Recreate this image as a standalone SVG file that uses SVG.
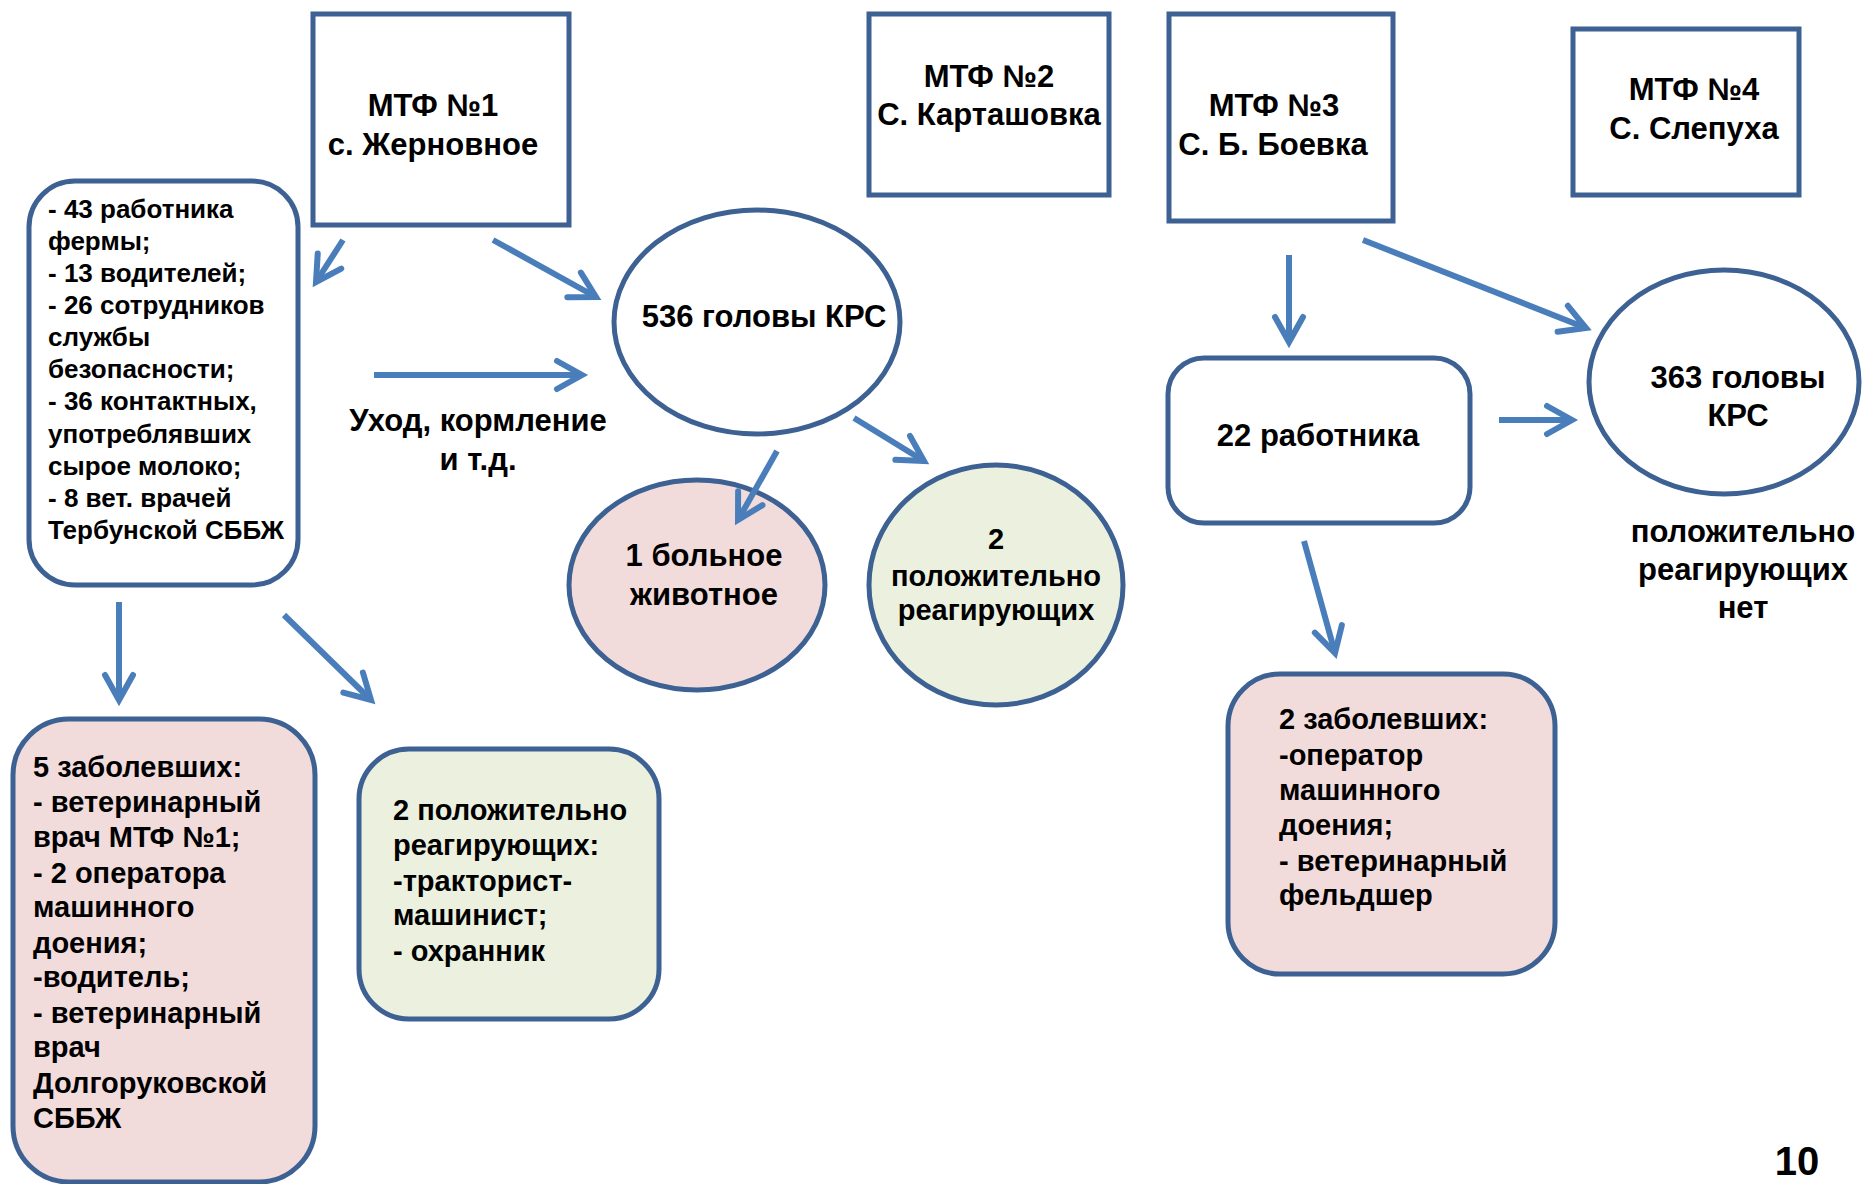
<svg xmlns="http://www.w3.org/2000/svg" width="1864" height="1184" viewBox="0 0 1864 1184">
<defs>
<style>
.box{fill:#ffffff;stroke:#3C6192;stroke-width:5}
.pink{fill:#F2DCDB;stroke:#3C6192;stroke-width:5}
.green{fill:#EBF1DE;stroke:#3C6192;stroke-width:5}
.t{font-family:"Liberation Sans",Arial,sans-serif;font-weight:bold;fill:#000}
.c{text-anchor:middle}
.f31{font-size:31px}
.f29{font-size:29px}
.f26{font-size:26px}
.conn line{stroke:#4A7EBB;stroke-width:6;marker-end:url(#ah)}
</style>
<marker id="ah" markerUnits="userSpaceOnUse" markerWidth="60" markerHeight="60" viewBox="-30 -30 60 60" refX="0" refY="0" orient="auto" overflow="visible">
<path d="M-25,-14 L0,0 L-25,14" fill="none" stroke="#4A7EBB" stroke-width="6" stroke-linecap="round"/>
</marker>
</defs>
<rect width="1864" height="1184" fill="#ffffff"/>

<g id="mtf1">
<rect class="box" x="313" y="14" width="256" height="211"/>
<text class="t c f31" x="433" y="116">МТФ №1</text>
<text class="t c f31" x="433" y="155">с. Жерновное</text>
</g>

<g id="mtf2">
<rect class="box" x="869" y="14" width="240" height="181"/>
<text class="t c f31" x="989" y="87">МТФ №2</text>
<text class="t c f31" x="989" y="125">С. Карташовка</text>
</g>

<g id="mtf3">
<rect class="box" x="1169" y="14" width="224" height="207"/>
<text class="t c f31" x="1274" y="116">МТФ №3</text>
<text class="t c f31" x="1273" y="155">С. Б. Боевка</text>
</g>

<g id="mtf4">
<rect class="box" x="1573" y="29" width="226" height="166"/>
<text class="t c f31" x="1694" y="100">МТФ №4</text>
<text class="t c f31" x="1694" y="139">С. Слепуха</text>
</g>

<g id="workers1">
<rect class="box" x="29" y="181" width="269" height="404" rx="46" ry="46"/>
<text class="t f26" x="48">
<tspan x="48" y="218">- 43 работника</tspan>
<tspan x="48" y="250">фермы;</tspan>
<tspan x="48" y="282">- 13 водителей;</tspan>
<tspan x="48" y="314">- 26 сотрудников</tspan>
<tspan x="48" y="346">службы</tspan>
<tspan x="48" y="378">безопасности;</tspan>
<tspan x="48" y="410">- 36 контактных,</tspan>
<tspan x="48" y="443">употреблявших</tspan>
<tspan x="48" y="475">сырое молоко;</tspan>
<tspan x="48" y="507">- 8 вет. врачей</tspan>
<tspan x="48" y="539">Тербунской СББЖ</tspan>
</text>
</g>

<g id="care-label">
<text class="t c f31" x="478" y="431">Уход, кормление</text>
<text class="t c f31" x="478" y="470">и т.д.</text>
</g>

<g id="herd1">
<ellipse class="box" cx="757" cy="322" rx="143" ry="112"/>
<text class="t c f31" x="764" y="327">536 головы КРС</text>
</g>

<g id="sick-animal">
<ellipse class="pink" cx="697" cy="585" rx="128" ry="105"/>
<text class="t c f31" x="704" y="566">1 больное</text>
<text class="t c f31" x="704" y="605">животное</text>
</g>

<g id="positive-animals">
<ellipse class="green" cx="996" cy="585" rx="127" ry="120"/>
<text class="t c f29" x="996" y="549">2</text>
<text class="t c f29" x="996" y="586">положительно</text>
<text class="t c f29" x="996" y="620">реагирующих</text>
</g>

<g id="sick-people1">
<rect class="pink" x="13" y="719" width="302" height="463" rx="56" ry="56"/>
<text class="t f29">
<tspan x="33" y="777">5 заболевших:</tspan>
<tspan x="33" y="812">- ветеринарный</tspan>
<tspan x="33" y="847">врач МТФ №1;</tspan>
<tspan x="33" y="883">- 2 оператора</tspan>
<tspan x="33" y="917">машинного</tspan>
<tspan x="33" y="953">доения;</tspan>
<tspan x="33" y="987">-водитель;</tspan>
<tspan x="33" y="1023">- ветеринарный</tspan>
<tspan x="33" y="1057">врач</tspan>
<tspan x="33" y="1093">Долгоруковской</tspan>
<tspan x="33" y="1128">СББЖ</tspan>
</text>
</g>

<g id="positive-people1">
<rect class="green" x="359" y="749" width="300" height="270" rx="50" ry="50"/>
<text class="t f29">
<tspan x="393" y="820">2 положительно</tspan>
<tspan x="393" y="855">реагирующих:</tspan>
<tspan x="393" y="891">-тракторист-</tspan>
<tspan x="393" y="925">машинист;</tspan>
<tspan x="393" y="961">- охранник</tspan>
</text>
</g>

<g id="workers3">
<rect class="box" x="1168" y="358" width="302" height="165" rx="36" ry="36"/>
<text class="t c f31" x="1318" y="446">22 работника</text>
</g>

<g id="herd3">
<ellipse class="box" cx="1724" cy="382" rx="135" ry="112"/>
<text class="t c f31" x="1738" y="388">363 головы</text>
<text class="t c f31" x="1738" y="426">КРС</text>
</g>

<g id="no-positive">
<text class="t c f31" x="1743" y="542">положительно</text>
<text class="t c f31" x="1743" y="580">реагирующих</text>
<text class="t c f31" x="1743" y="618">нет</text>
</g>

<g id="sick-people3">
<rect class="pink" x="1228" y="674" width="327" height="300" rx="52" ry="52"/>
<text class="t f29">
<tspan x="1279" y="729">2 заболевших:</tspan>
<tspan x="1279" y="765">-оператор</tspan>
<tspan x="1279" y="800">машинного</tspan>
<tspan x="1279" y="835">доения;</tspan>
<tspan x="1279" y="871">- ветеринарный</tspan>
<tspan x="1279" y="905">фельдшер</tspan>
</text>
</g>

<g id="page-number">
<text class="t c" x="1797" y="1175" style="font-size:40px">10</text>
</g>

<g id="connectors" class="conn">
<line x1="343" y1="240" x2="316" y2="282"/>
<line x1="493" y1="240" x2="596" y2="297"/>
<line x1="374" y1="375" x2="582" y2="375"/>
<line x1="777" y1="451" x2="738" y2="520"/>
<line x1="854" y1="418" x2="924" y2="461"/>
<line x1="119" y1="602" x2="119" y2="700"/>
<line x1="284" y1="615" x2="371" y2="700"/>
<line x1="1289" y1="255" x2="1289" y2="342"/>
<line x1="1363" y1="240" x2="1586" y2="328"/>
<line x1="1499" y1="420" x2="1572" y2="420"/>
<line x1="1304" y1="541" x2="1335" y2="653"/>
</g>
</svg>
